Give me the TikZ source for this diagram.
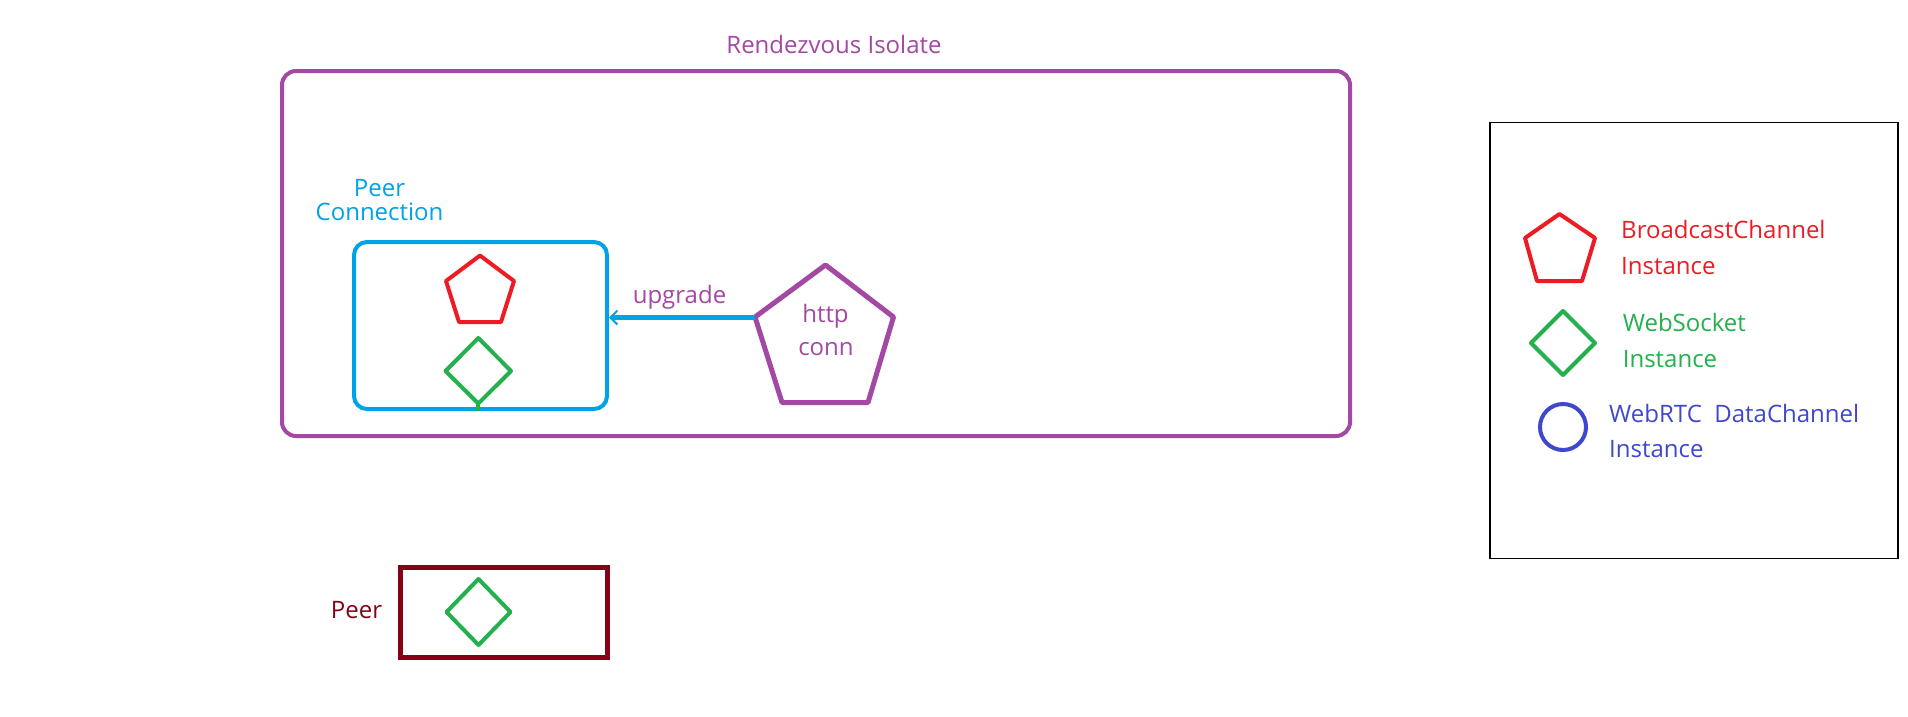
\documentclass[tikz,border=0pt]{standalone}
\usepackage{fontspec}
\setmainfont{Open Sans}
\usetikzlibrary{arrows.meta}
\definecolor{cpurple}{HTML}{A349A4}
\definecolor{ccyan}{HTML}{00A2E8}
\definecolor{cred}{HTML}{ED1C24}
\definecolor{cgreen}{HTML}{22B14C}
\definecolor{cblue}{HTML}{3F48CC}
\definecolor{cdarkred}{HTML}{880015}
\tikzset{
  txt/.style={inner sep=0pt, font=\fontsize{24}{24}\selectfont},
  boxshape/.style={draw, inner sep=0pt, line width=4pt},
  shapeline/.style={line width=4pt, line join=round},
}
\begin{document}
\begin{tikzpicture}[x=1pt, y=-1pt]
\useasboundingbox[fill=white] (0,0) rectangle (1908,716);

% Rendezvous Isolate
\node[boxshape, cpurple, rounded corners=14pt, minimum width=1068pt, minimum height=365pt] (iso) at (816,253.5) {};
\node[txt, text=cpurple, anchor=base] (isotitle) at (834,53) {Rendezvous Isolate};

% Peer Connection
\node[boxshape, ccyan, rounded corners=13pt, minimum width=253pt, minimum height=167pt] (pc) at (480.5,325.5) {};
\node[txt, text=ccyan, anchor=base] (pclab1) at (379.5,196) {Peer};
\node[txt, text=ccyan, anchor=base] (pclab2) at (379.5,220) {Connection};
\draw[shapeline, cred] (480,255.5) -- (514,281) -- (501,322) -- (459,322) -- (446,281) -- cycle;
\draw[shapeline, cgreen] (478.3,338) -- (511,371) -- (478.3,403.5) -- (445.5,371) -- cycle;
\draw[line width=4pt, cgreen] (478.3,403.5) -- (478.3,411);

% http conn
\draw[line width=5pt, line join=round, cpurple] (825.5,265) -- (893.5,317) -- (868,402.5) -- (782,402.5) -- (755,317) -- cycle;
\coordinate (httpW) at (755,317.5);
\node[txt, text=cpurple, anchor=base] (http1) at (825.5,322.7) {http};
\node[txt, text=cpurple, anchor=base] (http2) at (826,355) {conn};

% upgrade arrow
\draw[line width=5pt, ccyan, -{Straight Barb[length=7pt, width=14pt, line width=2pt]}] (httpW) -- (pc.east |- httpW);
\node[txt, text=cpurple, anchor=base] (upg) at (679.5,303) {upgrade};

% Peer
\node[boxshape, cdarkred, line width=4.7pt, minimum width=207pt, minimum height=90pt] (peer) at (504,612.5) {};
\draw[shapeline, cgreen] (478.5,579) -- (510.5,612) -- (478.5,645) -- (446.5,612) -- cycle;
\node[txt, text=cdarkred, anchor=base] (peerlab) at (356.5,618) {Peer};

% Legend
\node[draw, black, line width=1.5pt, inner sep=0pt, minimum width=408pt, minimum height=436pt] (legend) at (1694,340.5) {};
\draw[shapeline, cred] (1559.5,214) -- (1595,238) -- (1582,281) -- (1537,281) -- (1525,238) -- cycle;
\node[txt, text=cred, anchor=base west] (l1a) at (1621,238) {BroadcastChannel};
\node[txt, text=cred, anchor=base west] (l1b) at (1621,274.5) {Instance};
\draw[shapeline, cgreen] (1563,311) -- (1595,343) -- (1563,375) -- (1531,343) -- cycle;
\node[txt, text=cgreen, anchor=base west] (l2a) at (1622.6,331.5) {WebSocket};
\node[txt, text=cgreen, anchor=base west] (l2b) at (1622.6,367) {Instance};
\draw[line width=4pt, cblue] (1563,427) circle[radius=23pt];
\node[txt, text=cblue, anchor=base west] (l3a) at (1609,422) {WebRTC\ \ DataChannel};
\node[txt, text=cblue, anchor=base west] (l3b) at (1609,457) {Instance};
\end{tikzpicture}
\end{document}
